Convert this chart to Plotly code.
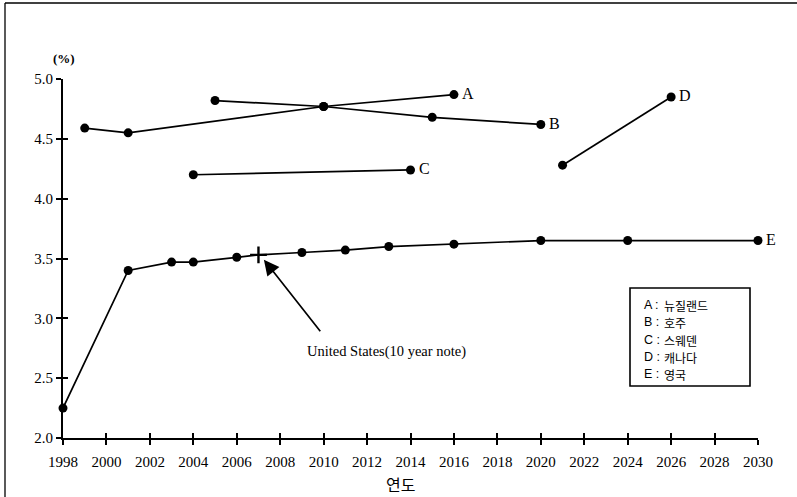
import plotly.graph_objects as go

# Series data (year, %)
a_years = [1999, 2001, 2010, 2016]
a_values = [4.59, 4.55, 4.77, 4.87]

b_years = [2005, 2010, 2015, 2020]
b_values = [4.82, 4.77, 4.68, 4.62]

c_years = [2004, 2014]
c_values = [4.20, 4.24]

d_years = [2021, 2026]
d_values = [4.28, 4.85]

e_years = [1998, 2001, 2003, 2004, 2006, 2007, 2009, 2011, 2013, 2016, 2020, 2024, 2030]
e_values = [2.25, 3.40, 3.47, 3.47, 3.51, 3.53, 3.55, 3.57, 3.60, 3.62, 3.65, 3.65, 3.65]

us_year = [2007]
us_value = [3.53]

series_labels = ["A", "B", "C", "D", "E"]
legend_names = ["뉴질랜드", "호주", "스웨덴", "캐나다", "영국"]

x_ticks = list(range(1998, 2031, 2))
y_ticks = [2.0, 2.5, 3.0, 3.5, 4.0, 4.5, 5.0]

SERIF = "Liberation Serif"
KR = "Noto Sans CJK KR"

# plot area in pixels (for converting positions of decorations)
PX0, PX1, PY0, PY1 = 63, 758, 438, 79


def px(xp):
    return (xp - PX0) / (PX1 - PX0)


def py(yp):
    return (PY0 - yp) / (PY0 - PY1)


fig = go.Figure()

all_series = [(a_years, a_values), (b_years, b_values), (c_years, c_values),
              (d_years, d_values), (e_years, e_values)]

for (xs, ys), lab in zip(all_series, series_labels):
    sizes = [0 if (lab == "E" and x == us_year[0]) else 9 for x in xs]
    fig.add_trace(go.Scatter(
        x=xs, y=ys, mode="lines+markers",
        line=dict(color="black", width=1.7),
        marker=dict(color="black", size=sizes, symbol="circle",
                    line=dict(width=0, color="black"), opacity=1),
        cliponaxis=False, showlegend=False, name=lab))
    fig.add_annotation(x=xs[-1], y=ys[-1], text=lab, showarrow=False,
                       xanchor="left", yanchor="middle", xshift=6, yshift=1,
                       font=dict(family=SERIF, size=16, color="black"))

# US marker (cross)
fig.add_trace(go.Scatter(
    x=us_year, y=us_value, mode="markers",
    marker=dict(symbol="cross-thin", size=12, line=dict(color="black", width=2.4)),
    cliponaxis=False, showlegend=False))

# invisible trace on overlay axes (for crossing ticks)
fig.add_trace(go.Scatter(x=[1998], y=[2.0], xaxis="x2", yaxis="y2",
                         mode="markers", marker=dict(opacity=0), showlegend=False,
                         hoverinfo="skip"))

# Arrow annotation
fig.add_annotation(x=2007.25, y=3.49, ax=2009.9, ay=2.88, axref="x", ayref="y",
                   xref="x", yref="y", text="", showarrow=True,
                   arrowhead=2, arrowsize=1.8, arrowwidth=1.7, arrowcolor="black")
fig.add_annotation(x=2012.9, y=2.72, text="United States(10 year note)",
                   showarrow=False, xanchor="center", yanchor="middle",
                   font=dict(family=SERIF, size=14.5, color="black"))

# Legend box (frame + one line per series)
fig.add_shape(type="rect", xref="paper", yref="paper",
              x0=px(630), x1=px(750), y0=py(386), y1=py(288),
              line=dict(color="black", width=1.6), fillcolor="white", layer="above")
legend_rows_y = [305, 322, 340, 357, 374]
for lab, name, yp in zip(series_labels, legend_names, legend_rows_y):
    fig.add_annotation(xref="paper", yref="paper", x=px(642), y=py(yp),
                       text=f"{lab} :", showarrow=False, xanchor="left", yanchor="middle",
                       font=dict(family="Liberation Sans", size=12.5, color="black"))
    fig.add_annotation(xref="paper", yref="paper", x=px(662), y=py(yp),
                       text=name, showarrow=False, xanchor="left", yanchor="middle",
                       font=dict(family=KR, size=12, color="black"))

# (%) label
fig.add_annotation(xref="paper", yref="paper", x=px(64), y=py(58), text="<b>(%)</b>",
                   showarrow=False, xanchor="center", yanchor="middle",
                   font=dict(family=SERIF, size=13, color="black"))

# x-axis title
fig.add_annotation(xref="paper", yref="paper", x=px(400), y=py(484), text="연도",
                   showarrow=False, xanchor="center", yanchor="middle",
                   font=dict(family=KR, size=16, color="black"))

# outer frame (left and top lines)
fig.add_shape(type="line", xref="paper", yref="paper", x0=px(5), x1=px(5),
              y0=py(3), y1=py(510), line=dict(color="black", width=1.3))
fig.add_shape(type="line", xref="paper", yref="paper", x0=px(5), x1=px(810),
              y0=py(3), y1=py(3), line=dict(color="black", width=1.3))

axis_common = dict(showgrid=False, zeroline=False, showline=True,
                   linecolor="black", linewidth=2, ticks="outside",
                   tickcolor="black", tickwidth=2, ticklen=5)

fig.update_layout(
    width=797, height=497,
    margin=dict(l=63, r=39, t=79, b=59, autoexpand=False),
    paper_bgcolor="white", plot_bgcolor="white",
    font=dict(family=SERIF, size=14, color="black"),
    xaxis=dict(range=[1998, 2030], tickvals=x_ticks, ticktext=[str(v) for v in x_ticks],
               ticklabelstandoff=4,
               tickfont=dict(family=SERIF, size=15, color="black"), **axis_common),
    yaxis=dict(range=[2.0, 5.0], tickvals=y_ticks, ticktext=[f"{v:.1f}" for v in y_ticks],
               tickfont=dict(family=SERIF, size=15, color="black"), **axis_common),
    xaxis2=dict(range=[1998, 2030], overlaying="x", anchor="y2", side="bottom",
                tickvals=x_ticks, showticklabels=False, showgrid=False, zeroline=False,
                showline=False, ticks="inside", tickcolor="black", tickwidth=2, ticklen=5),
    yaxis2=dict(range=[2.0, 5.0], overlaying="y", anchor="x2", side="left",
                tickvals=y_ticks, showticklabels=False, showgrid=False, zeroline=False,
                showline=False, ticks="inside", tickcolor="black", tickwidth=2, ticklen=5),
    showlegend=False,
)

fig.write_html("out.html", config={"displayModeBar": False},
               post_script="document.body.style.margin='0';document.body.style.overflow='hidden';")
